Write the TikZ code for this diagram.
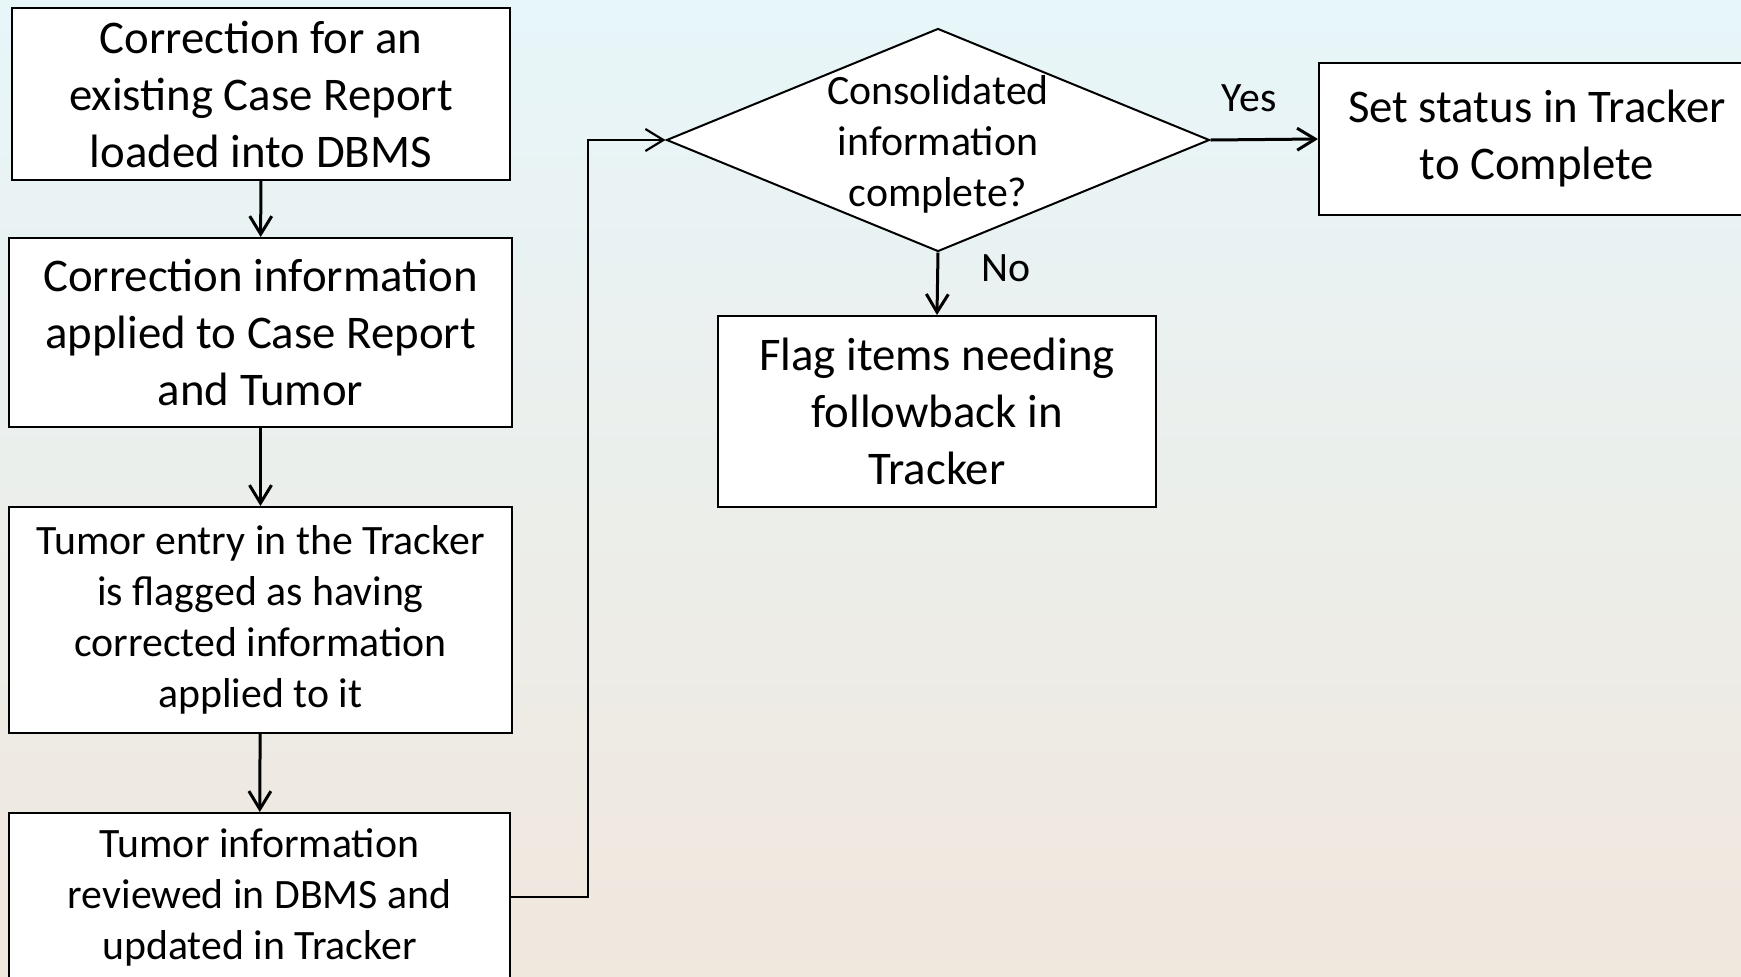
\documentclass[tikz,border=0pt]{standalone}
\usepackage{fontspec}
\setmainfont{Carlito}
\usetikzlibrary{shapes.geometric, arrows.meta, positioning}

\definecolor{skytop}{RGB}{231,246,249}
\definecolor{skymid}{RGB}{247,248,241}
\definecolor{sand}{RGB}{240,231,221}

\begin{document}
\begin{tikzpicture}[
  x=0.5pt, y=-0.5pt,
  stepbox/.style={rectangle, draw=black, fill=white, line width=1pt, align=center, inner sep=0pt},
  bigtext/.style={font=\fontsize{23.4}{28.5}\selectfont},
  smalltext/.style={font=\fontsize{20.9}{25.5}\selectfont},
  decision/.style={diamond, draw=black, fill=white, line width=1pt, inner sep=0pt},
  flow/.style={-{Straight Barb[length=9pt, width=11pt]}, line width=1.5pt},
  link/.style={-{Straight Barb[length=9pt, width=11pt]}, line width=1.1pt}
]

% Background
\clip (0,0) rectangle (1741,976);
\shade[top color=skytop, middle color=skymid, bottom color=sand] (0,0) rectangle (1741,976);

% Nodes
\node[stepbox, bigtext, minimum width=249pt, minimum height=86pt] (C1) at (261,94)
  {Correction for an\\existing Case Report\\loaded into DBMS};
\node[stepbox, bigtext, minimum width=251.5pt, minimum height=94.5pt] (C2) at (260.5,332.5)
  {Correction information\\applied to Case Report\\and Tumor};
\node[stepbox, smalltext, minimum width=251.5pt, minimum height=113pt] (C3) at (260.5,620)
  {Tumor entry in the Tracker\\is flagged as having\\corrected information\\applied to it};
\node[stepbox, smalltext, minimum width=250.5pt, minimum height=84pt] (C4) at (259.5,897)
  {Tumor information\\reviewed in DBMS and\\updated in Tracker};
\node[decision, minimum width=271.5pt, minimum height=111.5pt,
  label={[smalltext, align=center, yshift=-2pt]center:{Consolidated\\information\\complete?}}] (Q) at (938,140) {};
\node[stepbox, bigtext, minimum width=218pt, minimum height=76pt] (S) at (1537,139)
  {Set status in Tracker\\to Complete};
\node[stepbox, bigtext, minimum width=219pt, minimum height=95.5pt] (F) at (937,411.5)
  {Flag items needing\\followback in\\Tracker};

% Steps
\draw[flow] (C1) -- (C2);
\draw[flow] (C2) -- (C3);
\draw[flow] (C3) -- (C4);
\draw[link] (C4.east) -- ++(77,0) |- (Q.west);

% Decision
\draw[flow] (Q.east) -- node[smalltext, pos=0.36, above=10pt] {Yes} (S.west);
\draw[flow] (Q.south) -- node[smalltext, pos=0.25, right=18pt] {No} (F.north);

\end{tikzpicture}
\end{document}
